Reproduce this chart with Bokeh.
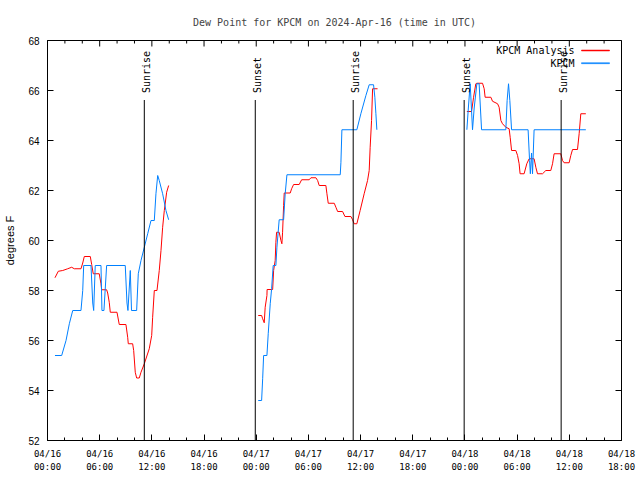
import math
import numpy as np
import pandas as pd
from bokeh.plotting import figure
from bokeh.models import (FixedTicker, Range1d, Label, BoxAnnotation, ColumnDataSource)
from bokeh.core.properties import value
from bokeh.embed import file_html
from bokeh.resources import INLINE

# ---------------- data (hours since 2024-04-16 00:00 UTC, degrees F) ----------------
start = pd.Timestamp("2024-04-16 00:00")

analysis_h_d1 = [0.86, 1.24, 1.75, 2.32, 2.78, 3.08, 3.85, 4.05, 4.23, 4.92, 5.08, 5.26, 5.95, 6.15,
                 6.23, 6.80, 6.92, 7.10, 7.22, 7.99, 8.25, 9.02, 9.22, 9.29, 9.79, 9.91, 10.09, 10.25,
                 10.55, 10.75, 11.13, 11.70, 11.98, 12.09, 12.28, 12.59, 12.85, 13.05, 13.24, 13.43,
                 13.70, 13.93]
analysis_v_d1 = [58.51, 58.77, 58.80, 58.87, 58.93, 58.87, 58.87, 59.10, 59.36, 59.36, 59.04, 58.67,
                 58.67, 58.27, 58.03, 58.03, 57.90, 57.53, 57.13, 57.13, 56.64, 56.64, 56.13, 55.87,
                 55.87, 55.60, 54.73, 54.50, 54.50, 54.73, 55.07, 55.67, 56.20, 56.93, 58.00, 58.00,
                 58.80, 59.60, 60.53, 61.20, 61.93, 62.20]

analysis_h_d2 = [24.23, 24.62, 24.74, 24.92, 25.03, 25.23, 25.25, 25.89, 26.00, 26.18, 26.26, 26.34,
                 26.64, 26.84, 26.95, 27.03, 27.15, 27.22, 27.91, 28.07, 28.30, 28.94, 29.22, 30.09,
                 30.29, 30.86, 31.06, 31.24, 32.01, 32.13, 32.28, 32.97, 33.16, 33.36, 33.93, 34.20,
                 34.89, 35.08, 35.26, 35.57, 35.95, 36.41, 36.80, 36.99, 37.10, 37.26, 37.38, 37.95]
analysis_v_d2 = [57.00, 57.00, 56.87, 56.71, 57.33, 57.80, 58.04, 58.04, 58.80, 59.20, 59.93, 60.33,
                 60.33, 60.00, 59.87, 60.33, 61.40, 61.90, 61.90, 62.07, 62.24, 62.24, 62.43, 62.43,
                 62.51, 62.51, 62.40, 62.20, 62.20, 61.87, 61.49, 61.49, 61.33, 61.16, 61.16, 60.96,
                 60.96, 60.83, 60.67, 60.67, 61.20, 61.87, 62.40, 62.80, 63.73, 64.80, 66.07, 66.07]

analysis_h_d3 = [48.22, 48.76, 48.99, 49.25, 49.37, 50.02, 50.21, 50.32, 50.98, 51.17, 51.75, 51.93,
                 52.13, 52.32, 52.70, 53.08, 53.20, 53.36, 53.85, 54.05, 54.23, 54.34, 54.80, 55.11,
                 55.38, 55.95, 56.15, 56.34, 56.92, 57.30, 57.87, 58.07, 58.25, 59.02, 59.22, 59.40,
                 59.98, 60.17, 60.37, 60.94, 61.13, 61.32, 61.90]
analysis_v_d3 = [65.16, 65.16, 65.73, 66.27, 66.29, 66.29, 66.07, 65.73, 65.73, 65.57, 65.47, 65.33,
                 64.80, 64.67, 64.53, 64.47, 64.13, 63.60, 63.60, 63.40, 63.07, 62.67, 62.67, 63.07,
                 63.27, 63.27, 62.93, 62.67, 62.67, 62.80, 62.80, 63.07, 63.47, 63.47, 63.20, 63.11,
                 63.11, 63.40, 63.64, 63.64, 64.27, 65.07, 65.07]

obs_h_d1 = [0.86, 1.63, 2.13, 2.51, 2.90, 3.85, 4.05, 4.16, 5.00, 5.20, 5.31, 5.49, 6.15, 6.26, 6.49,
            6.80, 8.94, 9.14, 9.25, 9.52, 9.66, 10.25, 10.44, 10.75, 11.13, 11.52, 11.90, 12.28,
            12.47, 12.67, 12.85, 13.24, 13.62, 13.93]
obs_v_d1 = [55.40, 55.40, 56.00, 56.67, 57.20, 57.20, 58.00, 59.00, 59.00, 57.50, 57.20, 59.00, 59.00,
            57.20, 57.20, 59.00, 59.00, 57.50, 57.20, 58.80, 57.20, 57.20, 58.67, 59.20, 59.73, 60.27,
            60.80, 60.80, 61.87, 62.60, 62.40, 61.87, 61.20, 60.83]

obs_h_d2 = [24.23, 24.62, 24.74, 24.85, 25.23, 25.38, 25.61, 25.77, 25.95, 26.26, 26.38, 26.64, 27.15,
            27.33, 27.53, 33.66, 33.74, 33.85, 35.57, 36.03, 36.61, 36.99, 37.49, 37.64, 37.76, 37.87]
obs_v_d2 = [53.60, 53.60, 54.47, 55.40, 55.40, 56.27, 57.47, 58.07, 59.00, 59.00, 59.73, 60.83, 60.83,
            61.87, 62.63, 62.63, 63.13, 64.43, 64.43, 65.07, 65.80, 66.23, 66.23, 65.73, 65.07, 64.43]

obs_h_d3 = [48.22, 48.39, 48.60, 48.87, 49.06, 49.37, 49.63, 49.91, 52.70, 52.85, 53.01, 53.16, 53.36,
            55.26, 55.43, 55.52, 55.66, 55.77, 55.95, 61.90]
obs_v_d3 = [64.43, 65.30, 66.27, 64.43, 65.30, 66.27, 66.27, 64.43, 64.43, 65.60, 66.27, 65.60, 64.43,
            64.43, 63.20, 62.67, 63.50, 62.67, 64.43, 64.43]

sun_hours = [11.13, 23.89, 35.15, 47.91, 59.06]
sun_labels = ["Sunrise", "Sunset", "Sunrise", "Sunset", "Sunrise"]
sun_line_top = 65.62

xtick_hours = [0, 6, 12, 18, 24, 30, 36, 42, 48, 54, 60, 66]
xtick_labels = ["04/16\n00:00", "04/16\n06:00", "04/16\n12:00", "04/16\n18:00",
                "04/17\n00:00", "04/17\n06:00", "04/17\n12:00", "04/17\n18:00",
                "04/18\n00:00", "04/18\n06:00", "04/18\n12:00", "04/18\n18:00"]
yticks = [52, 54, 56, 58, 60, 62, 64, 66, 68]
y_min, y_max = 52, 68

series_names = ["KPCM Analysis", "KPCM"]
series_colors = ["#ff0000", "#0080ff"]

# ---------------- helpers ----------------
H = 3600 * 1000.0
t0 = start.value / 1e6  # ms


def to_ms(hours):
    return [t0 + h * H for h in hours]


def join(*pairs):
    xs, ys = [], []
    for hs, vs in pairs:
        if xs:
            xs.append(np.nan)
            ys.append(np.nan)
        xs.extend(to_ms(hs))
        ys.extend(vs)
    return xs, ys


ax, ay = join((analysis_h_d1, analysis_v_d1), (analysis_h_d2, analysis_v_d2), (analysis_h_d3, analysis_v_d3))
ox, oy = join((obs_h_d1, obs_v_d1), (obs_h_d2, obs_v_d2), (obs_h_d3, obs_v_d3))

MONO = "DejaVu Sans Mono"
SANS = "Liberation Sans"

x_lo, x_hi = t0 + xtick_hours[0] * H, t0 + xtick_hours[-1] * H

p = figure(width=640, height=480, output_backend="svg", toolbar_location=None,
           x_axis_type="datetime",
           x_range=Range1d(x_lo, x_hi), y_range=Range1d(y_min, y_max),
           min_border_left=47, min_border_right=19, min_border_top=40, min_border_bottom=40)
p.background_fill_color = "white"
p.border_fill_color = "white"
p.outline_line_color = "black"
p.outline_line_width = 1
p.xgrid.visible = False
p.ygrid.visible = False

p.title.text = "Dew Point for KPCM on 2024-Apr-16 (time in UTC)"
p.title.text_font = MONO
p.title.text_font_size = "10px"
p.title.text_font_style = "normal"
p.title.align = "center"
p.title.standoff = 26

xticks = to_ms(xtick_hours)
xminor = to_ms([h for h in range(0, 67, 2) if h % 6 != 0])

xa = p.xaxis[0]
xa.ticker = FixedTicker(ticks=xticks, minor_ticks=xminor)
xa.major_label_overrides = dict(zip(xticks, xtick_labels))
xa.major_tick_in = 6
xa.major_tick_out = 0
xa.minor_tick_in = 3
xa.minor_tick_out = 0
xa.axis_line_color = "black"
xa.major_label_text_font = MONO
xa.major_label_text_font_size = "9px"
xa.major_label_text_color = "black"
xa.major_label_standoff = 8
xa.major_label_text_line_height = 1.3

ya = p.yaxis[0]
ya.ticker = FixedTicker(ticks=yticks)
ya.major_tick_in = 6
ya.major_tick_out = 0
ya.minor_tick_line_color = None
ya.major_label_text_font = SANS
ya.major_label_text_font_size = "10px"
ya.major_label_text_color = "black"
ya.major_label_standoff = 8
ya.axis_label = "degrees F"
ya.axis_label_text_font = SANS
ya.axis_label_text_font_size = "11px"
ya.axis_label_text_font_style = "normal"
ya.axis_label_text_color = "black"
ya.axis_label_standoff = 9

# mirrored ticks on top and right edges (gnuplot style), drawn as dash markers clipped by the frame
p.scatter(x=xticks, y=[y_max] * len(xticks), marker="dash", size=12, angle=math.pi / 2,
          line_color="black", line_width=1)
p.scatter(x=xminor, y=[y_max] * len(xminor), marker="dash", size=6, angle=math.pi / 2,
          line_color="black", line_width=1)
p.scatter(x=[x_hi] * len(yticks), y=yticks, marker="dash", size=12,
          line_color="black", line_width=1)

# series
p.line(ax, ay, line_color=series_colors[0], line_width=1)
p.line(ox, oy, line_color=series_colors[1], line_width=1)

# sunrise / sunset markers
sun_x = to_ms(sun_hours)
src = ColumnDataSource(dict(x=sun_x, y0=[y_min] * len(sun_x), y1=[sun_line_top] * len(sun_x), t=sun_labels))
p.segment(x0="x", y0="y0", x1="x", y1="y1", source=src, line_color="black", line_width=1)
p.text(x="x", y="y1", text="t", source=src, angle=math.pi / 2, text_align="left",
       text_baseline="middle", x_offset=2, y_offset=-7, text_font=value(MONO),
       text_font_size="10px", text_color="black")

# legend (gnuplot style: text right-aligned, line sample at right)
for i, (name, col) in enumerate(zip(series_names, series_colors)):
    yy = 390 - i * 12.7
    p.add_layout(Label(x=527, y=yy, x_units="screen", y_units="screen", text=name,
                       text_align="right", text_baseline="middle", text_font=MONO,
                       text_font_size="10px", text_color="black"))
    p.add_layout(BoxAnnotation(left=534, right=562, bottom=yy - 0.5, top=yy + 0.5,
                               left_units="screen", right_units="screen",
                               bottom_units="screen", top_units="screen",
                               fill_color=col, fill_alpha=1, line_color=col, line_alpha=1,
                               line_width=0.5))

open("out.html", "w").write(file_html(p, INLINE))
